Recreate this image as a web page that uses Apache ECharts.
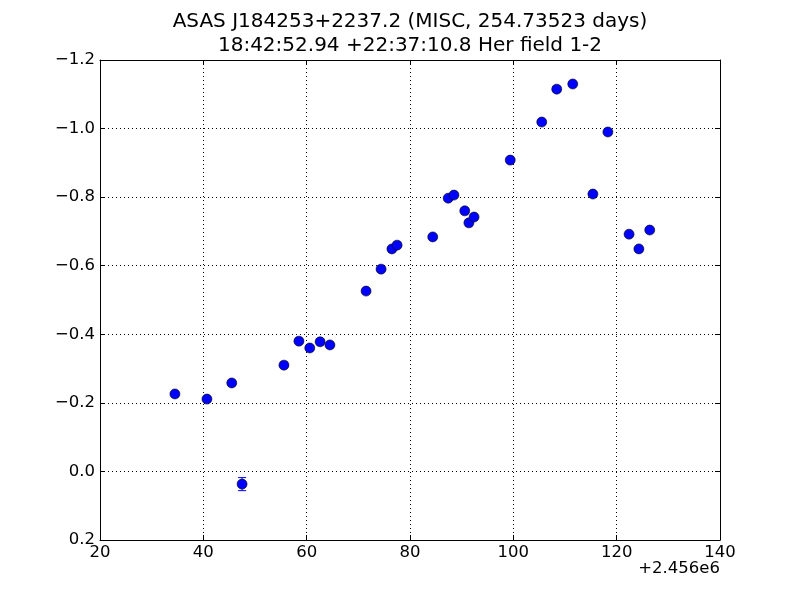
<!DOCTYPE html>
<html><head><meta charset="utf-8">
<script src="https://cdn.jsdelivr.net/npm/echarts@6/dist/echarts.min.js"></script>
<style>html,body{margin:0;padding:0;background:#fff}#c{width:800px;height:600px}</style>
</head><body><div id="c"></div>
<script>
const jd = [34.5, 40.7, 45.5, 47.5, 55.6, 58.5, 60.6, 62.6, 64.5, 71.5, 74.4, 76.5, 77.5, 84.4, 87.4, 88.5, 90.6, 91.4, 92.4, 99.4, 105.5, 108.4, 111.5, 115.4, 118.3, 122.4, 124.3, 126.4];
const mag = [-0.226, -0.211, -0.258, 0.037, -0.310, -0.380, -0.360, -0.378, -0.369, -0.526, -0.590, -0.649, -0.660, -0.684, -0.797, -0.806, -0.760, -0.725, -0.742, -0.908, -1.019, -1.115, -1.130, -0.809, -0.990, -0.692, -0.649, -0.704];
const err = [0, 0, 0, 0.019, 0, 0, 0, 0, 0, 0, 0, 0, 0, 0, 0, 0, 0, 0, 0, 0, 0, 0, 0, 0, 0, 0, 0, 0];
const titleLines = ['ASAS J184253+2237.2 (MISC, 254.73523 days)', '18:42:52.94 +22:37:10.8 Her field 1-2'];
const offsetText = '+2.456e6';

const font = 'DejaVu Sans';
const fmtY = v => { const r = Math.round(v*10)/10; return (r < 0 ? '\u2212' : '') + Math.abs(r).toFixed(1); };
const pts = jd.map((x,i)=>[x, mag[i]]);
const errData = jd.map((x,i)=>[x, mag[i], err[i]]).filter(d=>d[2]>0);

const chart = echarts.init(document.getElementById('c'));
const axisCommon = {
  axisLine:{show:true, onZero:false, lineStyle:{color:'#000', width:1}},
  axisTick:{show:true, inside:true, length:5, lineStyle:{color:'#000'}},
};
chart.setOption({
  animation:false,
  grid:{left:100, right:80, top:60, bottom:60, show:false},
  xAxis:[
    Object.assign({type:'value', min:20, max:140, interval:20, position:'bottom',
      axisLabel:{fontFamily:font, fontSize:16.5, color:'#000', margin:4},
      splitLine:{show:true, lineStyle:{color:'#000', type:[1,3], width:1}}}, axisCommon),
    Object.assign({type:'value', min:20, max:140, interval:20, position:'top',
      axisLabel:{show:false}, splitLine:{show:false}}, axisCommon)
  ],
  yAxis:[
    Object.assign({type:'value', min:-1.2, max:0.2, interval:0.2, inverse:true, position:'left',
      axisLabel:{fontFamily:font, fontSize:16.5, color:'#000', margin:5, formatter:fmtY},
      splitLine:{show:true, lineStyle:{color:'#000', type:[1,3], width:1}}}, axisCommon),
    Object.assign({type:'value', min:-1.2, max:0.2, interval:0.2, inverse:true, position:'right',
      axisLabel:{show:false}, splitLine:{show:false}}, axisCommon)
  ],
  graphic:[
    {type:'text', x:410, y:22, style:{text:titleLines[0], font:'20px "DejaVu Sans"', fill:'#000', textAlign:'center', textVerticalAlign:'middle'}},
    {type:'text', x:410, y:46, style:{text:titleLines[1], font:'20px "DejaVu Sans"', fill:'#000', textAlign:'center', textVerticalAlign:'middle'}},
    {type:'text', right:80, top:560, style:{text:offsetText, font:'16.5px "DejaVu Sans"', fill:'#000', textAlign:'right'}}
  ],
  series:[
    {type:'custom', xAxisIndex:0, yAxisIndex:0, data:errData, z:2,
      renderItem:(params, api)=>{
        const x = api.value(0), y = api.value(1), e = api.value(2);
        const p1 = api.coord([x, y-e]), p2 = api.coord([x, y+e]);
        const s = {stroke:'#0000ff', lineWidth:1};
        return {type:'group', children:[
          {type:'line', shape:{x1:p1[0], y1:p1[1], x2:p2[0], y2:p2[1]}, style:s},
          {type:'line', shape:{x1:p1[0]-4, y1:p1[1], x2:p1[0]+4, y2:p1[1]}, style:s},
          {type:'line', shape:{x1:p2[0]-4, y1:p2[1], x2:p2[0]+4, y2:p2[1]}, style:s}
        ]};
      }},
    {type:'scatter', xAxisIndex:0, yAxisIndex:0, data:pts, symbol:'circle', symbolSize:10, z:3,
      itemStyle:{color:'#0000ff', borderColor:'#000', borderWidth:0.6, opacity:1}}
  ]
});
</script></body></html>
